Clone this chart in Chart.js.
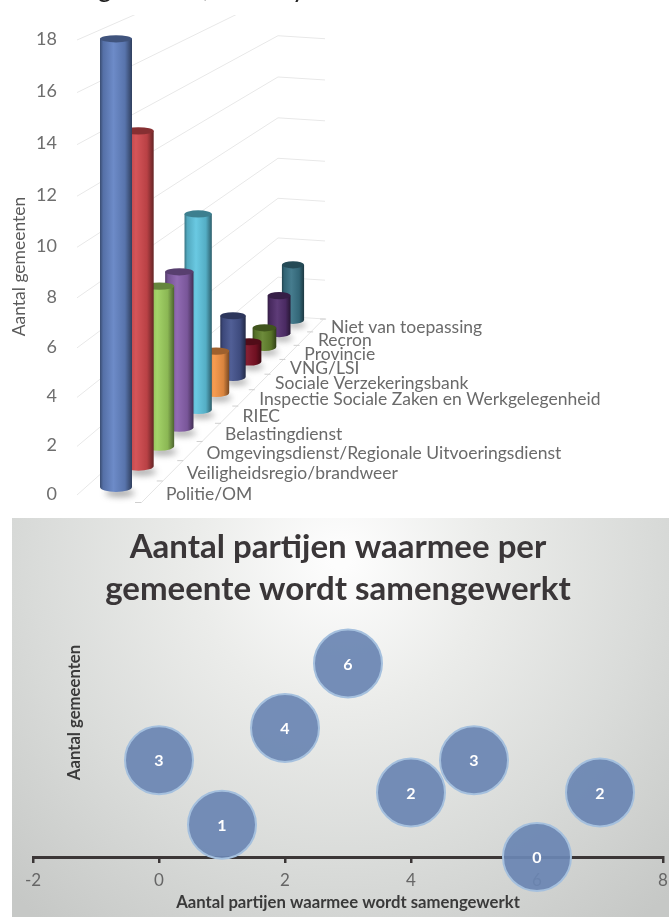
<!DOCTYPE html>
<html><head><meta charset="utf-8">
<style>html,body{margin:0;padding:0;background:#fff;width:669px;height:917px;overflow:hidden}
canvas{position:absolute;display:block}</style>
<script src="https://cdn.jsdelivr.net/npm/chart.js@4/dist/chart.umd.min.js"></script>
</head><body>
<canvas id="c1" width="669" height="518" style="left:0;top:0;width:669px;height:518px"></canvas>
<canvas id="c2" width="657" height="399" style="left:12px;top:518px;width:657px;height:399px"></canvas>
<script>
const partners = ['Politie/OM','Veiligheidsregio/brandweer','Omgevingsdienst/Regionale Uitvoeringsdienst','Belastingdienst','RIEC','Inspectie Sociale Zaken en Werkgelegenheid','Sociale Verzekeringsbank','VNG/LSI','Provincie','Recron','Niet van toepassing'];
const partnerCounts = [18,14,7,7,9,2,3,1,1,2,3];
const cylinderColors = ['#6484c4','#d24a4e','#9ed05f','#8a62ae','#60c6e0','#f79646','#46558f','#7e1226','#64842e','#54306f','#3a7487'];
const partijenX = [0,1,2,3,4,5,6,7];
const gemeentenY = [3,1,4,6,2,3,0,2];
const bubbleRadius = 34;

const DEPTH_K = 0.03;
const depthScale = i => 1/(1+DEPTH_K*i);

class DepthCategoryScale extends Chart.CategoryScale {
  static id = 'depthCategory';
  getPixelForValue(v){
    const s = depthScale(v), s1 = depthScale(this.getLabels().length-1);
    return this.left + (this.right-this.left)*(1-s)/(1-s1);
  }
}
class PerspectiveLinearScale extends Chart.LinearScale {
  static id = 'perspectiveLinear';
  getPixelForValue(v){
    const t = v/this.max, q = 0.955*t + 0.045*t*t;
    return this.bottom - (this.bottom-this.top)*q;
  }
}
function shade(hex,f){
  const n=parseInt(hex.slice(1),16);
  const c=[n>>16,(n>>8)&255,n&255].map(x=>Math.round(f<1?x*f:x+(255-x)*(f-1)));
  return `rgb(${c[0]},${c[1]},${c[2]})`;
}
const FLOOR_SLOPE = 0.943, FLOOR_FRONT = 487;
function floorY(x, x0){ return FLOOR_FRONT - FLOOR_SLOPE*(x-x0); }

class CylinderController extends Chart.BarController {
  static id = 'cylinder';
  draw(){
    const meta=this._cachedMeta, ctx=this.chart.ctx, xs=meta.xScale, ys=meta.yScale;
    const ds=this.getDataset(), x0=xs.getPixelForValue(0);
    for(let i=ds.data.length-1;i>=0;i--){
      const s=depthScale(i), cx=xs.getPixelForValue(i);
      const w=32*Math.pow(s,1.4), ryT=3.6, ryB=5*s, b=floorY(cx,x0);
      const h=(ys.getPixelForValue(0)-ys.getPixelForValue(ds.data[i]))*s*0.985;
      const t=b-h, col=ds.backgroundColor[i];
      const l=cx-w/2, r=cx+w/2;
      ctx.save();
      ctx.save();
      ctx.filter='blur(3px)';
      ctx.fillStyle='rgba(70,70,70,0.45)';
      ctx.beginPath();ctx.ellipse(cx+4*s,b+ryB+1,w*0.46,ryB*0.8,0,0,Math.PI*2);ctx.fill();
      ctx.restore();
      const g=ctx.createLinearGradient(l,0,r,0);
      g.addColorStop(0,shade(col,0.58));
      g.addColorStop(0.1,shade(col,0.85));
      g.addColorStop(0.42,shade(col,1.06));
      g.addColorStop(0.78,shade(col,0.88));
      g.addColorStop(1,shade(col,0.48));
      ctx.fillStyle=g;
      ctx.beginPath();
      ctx.moveTo(l,t);
      ctx.lineTo(l,b);
      ctx.ellipse(cx,b,w/2,ryB,0,Math.PI,0,true);
      ctx.lineTo(r,t);
      ctx.closePath();
      ctx.fill();
      ctx.fillStyle=shade(col,0.64);
      ctx.beginPath();ctx.ellipse(cx,t,w/2,ryT,0,0,Math.PI*2);ctx.fill();
      ctx.restore();
    }
  }
}
Chart.register(DepthCategoryScale,PerspectiveLinearScale,CylinderController);

const headingFragments = [['g',98],[',',203],['y',292]];
const wallPlugin = {
  id:'wall',
  afterLayout(chart){
    chart.scales.y.right-=48;
  },
  beforeDatasetsDraw(chart){
    const ctx=chart.ctx, ys=chart.scales.y, xs=chart.scales.x, x0=xs.getPixelForValue(0);
    ctx.save();
    ctx.beginPath();ctx.rect(0,15,669,500);ctx.clip();
    ctx.lineWidth=1;ctx.strokeStyle='#e8e8e8';
    ys.ticks.forEach(tk=>{
      const py=ys.getPixelForValue(tk.value), h=ys.getPixelForValue(0)-py;
      const cornerY=316-h*0.8;
      ctx.beginPath();ctx.moveTo(77,py+1);ctx.lineTo(278,cornerY);ctx.lineTo(325,cornerY+3);ctx.stroke();
    });
    ctx.strokeStyle='#e4e4e4';
    const n=partners.length;
    const px=i=>xs.getPixelForValue(i)+21*depthScale(i)+1, py=i=>floorY(xs.getPixelForValue(i),x0)+16*depthScale(i);
    ctx.beginPath();ctx.moveTo(px(0)+3,py(0));ctx.lineTo(px(n),py(n));ctx.stroke();
    ctx.restore();
  },
  afterDatasetsDraw(chart){
    const ctx=chart.ctx, xs=chart.scales.x, x0=xs.getPixelForValue(0);
    ctx.save();
    ctx.font='17.5px Lato';ctx.fillStyle='#6a6a6a';ctx.textBaseline='middle';ctx.textAlign='left';
    partners.forEach((name,i)=>{
      const cx=xs.getPixelForValue(i), s=depthScale(i);
      ctx.fillText(name,cx+50-12*(1-s)/0.23,floorY(cx,x0)+7);
    });
    ctx.strokeStyle='#cfcfcf';ctx.lineWidth=1;
    for(let i=0;i<=partners.length;i++){
      const cx=xs.getPixelForValue(i), s=depthScale(i), dx=21*s+1, y=floorY(cx,x0)+16*s-.5;
      ctx.beginPath();ctx.moveTo(cx+dx-3,y);ctx.lineTo(cx+dx+3,y);ctx.stroke();
    }
    ctx.fillStyle='#222';ctx.font='26px Lato';ctx.textBaseline='alphabetic';
    headingFragments.forEach(([ch,x])=>ctx.fillText(ch,x,-3));
    ctx.restore();
  }
};

new Chart(document.getElementById('c1'),{
  type:'cylinder',
  data:{labels:partners,datasets:[{label:'Aantal gemeenten',data:partnerCounts,backgroundColor:cylinderColors,clip:false}]},
  options:{
    responsive:false,animation:false,
    layout:{autoPadding:false,padding:{top:39,bottom:24,left:0,right:376}},
    plugins:{legend:{display:false},tooltip:{enabled:false}},
    scales:{
      x:{type:'depthCategory',display:false,offset:false},
      y:{type:'perspectiveLinear',min:0,max:18,
        grid:{display:false},border:{display:false},
        ticks:{stepSize:2,color:'#6e6e6e',padding:3,font:{family:'Lato',size:18}},
        title:{display:true,text:'Aantal gemeenten',color:'#5a5a5a',font:{family:'Lato',size:17.5},padding:{top:9,bottom:0}},
        afterFit(sc){sc.width=116;}
      }
    }
  },
  plugins:[wallPlugin]
});

const backgroundPlugin = {
  id:'bg',
  beforeDraw(chart){
    const ctx=chart.ctx,W=chart.width,H=chart.height;
    const g=ctx.createRadialGradient(W*0.5,40,10,W*0.5,40,470);
    g.addColorStop(0,'#fdfdfd');
    g.addColorStop(0.3,'#ebecea');
    g.addColorStop(0.65,'#d9dbd9');
    g.addColorStop(1,'#c6c8c6');
    ctx.save();ctx.fillStyle=g;ctx.fillRect(0,0,W,H);ctx.restore();
  },
  afterLayout(chart){
    const y=chart.scales.y;
    y.left+=50;y.right+=50;
  }
};
const bubbleLabelPlugin = {
  id:'bubbleLabels',
  afterDatasetsDraw(chart){
    const ctx=chart.ctx,meta=chart.getDatasetMeta(0);
    ctx.save();
    ctx.font='bold 16px Lato';ctx.fillStyle='#fff';ctx.textAlign='center';ctx.textBaseline='middle';
    meta.data.forEach((el,i)=>ctx.fillText(String(gemeentenY[i]),el.x,el.y+1));
    ctx.restore();
  }
};
new Chart(document.getElementById('c2'),{
  type:'bubble',
  data:{datasets:[{label:'Aantal gemeenten',
    data:partijenX.map((x,i)=>({x,y:gemeentenY[i],r:bubbleRadius})),
    backgroundColor:'rgba(107,133,179,0.93)',borderColor:'#a5c0de',borderWidth:2,clip:false}]},
  options:{
    responsive:false,animation:false,
    layout:{autoPadding:false,padding:{left:1,right:6,top:0,bottom:0}},
    plugins:{legend:{display:false},tooltip:{enabled:false},
      title:{display:true,text:['Aantal partijen waarmee per','gemeente wordt samengewerkt'],
        color:'#3a3638',font:{family:'Lato',size:33,weight:'bold',lineHeight:1.27},padding:{top:8,bottom:35}}},
    scales:{
      x:{type:'linear',min:-2,max:8,
        grid:{display:true,drawOnChartArea:false,drawTicks:true,tickLength:6,color:'#3b3636',lineWidth:2.5},
        border:{display:true,color:'#3b3636',width:3},
        ticks:{stepSize:2,color:'#666',padding:7,font:{family:'Lato',size:17},maxRotation:0},
        title:{display:true,text:'Aantal partijen waarmee wordt samengewerkt',color:'#3a3a3a',font:{family:'Lato',size:16.7,weight:'bold'},padding:{top:4,bottom:4}},
        afterFit(sc){sc.height=60;sc.paddingLeft=0;sc.paddingRight=0;}
      },
      y:{type:'linear',min:0,max:6.58,
        grid:{display:false},border:{display:false},
        ticks:{display:false},
        title:{display:true,align:'end',text:'Aantal gemeenten',color:'#3a3a3a',font:{family:'Lato',size:16.7,weight:'bold'},padding:{top:2,bottom:2}},
        afterFit(sc){sc.width=20;}
      }
    }
  },
  plugins:[backgroundPlugin,bubbleLabelPlugin]
});
</script></body></html>
